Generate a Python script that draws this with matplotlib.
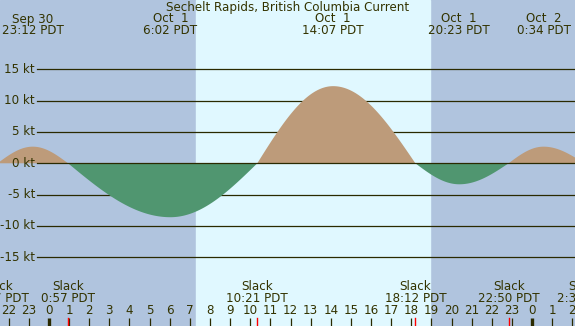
import numpy as np
import matplotlib
matplotlib.use('Agg')
import matplotlib.pyplot as plt
import matplotlib.transforms as mtrans

title = "Sechelt Rapids, British Columbia Current"

# events: time and speed in kt; 0 kt = slack
event_times = ["21:27", "23:12", "0:57", "6:02", "10:21", "14:07", "18:12", "20:23", "22:50", "0:34", "2:35"]
event_speeds = [0.0, 2.65, 0.0, -8.6, 0.0, 12.3, 0.0, -3.35, 0.0, 2.65, 0.0]
event_days = [-1, -1, 0, 0, 0, 0, 0, 0, 0, 1, 1]
max_dates = ["Sep 30", "Oct  1", "Oct  1", "Oct  1", "Oct  2"]

sunrise = "7:18"
sunset = "18:56"

y_ticks = [15, 10, 5, 0, -5, -10, -15]

W, H = 575, 326
x_lo, x_hi = -2.43, 26.13
y_lo, y_hi = -25.95, 26.04

txt = '#333300'
line_c = '#2a2a00'
night = '#b0c4de'
day = '#e0f8ff'
flood = '#bd9b7a'
ebb = '#509670'
fs = 8.6


def to_hours(s, d=0):
    h, m = s.split(':')
    return d * 24 + int(h) + int(m) / 60


t_ev = np.array([to_hours(s, d) for s, d in zip(event_times, event_days)])
v_ev = np.array(event_speeds)

# quarter-sine shape between slack and maximum
t = np.linspace(t_ev[0], t_ev[-1], 3000)
idx = np.clip(np.searchsorted(t_ev, t) - 1, 0, len(t_ev) - 2)
f = (t - t_ev[idx]) / (t_ev[idx + 1] - t_ev[idx])
a, b = v_ev[idx], v_ev[idx + 1]
v = np.where(a == 0, b * np.sin(np.pi / 2 * f), a * np.cos(np.pi / 2 * f))

fig = plt.figure(figsize=(W / 100, H / 100), dpi=100)
ax = fig.add_axes([0, 0, 1, 1])
ax.set_xlim(x_lo, x_hi)
ax.set_ylim(y_lo, y_hi)
ax.axis('off')

ax.axvspan(x_lo, x_hi, color=night, zorder=0)
ax.axvspan(to_hours(sunrise), to_hours(sunset), color=day, zorder=0.5)

bt = mtrans.blended_transform_factory(ax.transData, ax.transAxes)


def py(p):
    return 1 - p / H


# gridlines and y labels
x0 = x_lo + 37 / W * (x_hi - x_lo)
for yt in y_ticks:
    ax.plot([x0, x_hi], [yt, yt], color=line_c, lw=0.9, zorder=1 if yt else 3)
    ax.text(x0 - 0.1, yt, f"{yt} kt", ha='right', va='center', fontsize=fs, color=txt)

ax.fill_between(t, v, 0, where=v >= 0, color=flood, lw=0, zorder=2, interpolate=True)
ax.fill_between(t, v, 0, where=v <= 0, color=ebb, lw=0, zorder=2, interpolate=True)

ax.text(0.5, py(7), title, transform=ax.transAxes, ha='center', va='center', fontsize=fs, color=txt)

# max labels on top, slack labels at the bottom
mi = 0
for tt, sp, s in zip(t_ev, v_ev, event_times):
    if sp != 0:
        ax.text(tt, py(19), max_dates[mi], transform=bt, ha='center', va='center', fontsize=fs, color=txt)
        ax.text(tt, py(31), f"{s} PDT", transform=bt, ha='center', va='center', fontsize=fs, color=txt)
        mi += 1
    else:
        ax.text(tt, py(287), "Slack", transform=bt, ha='center', va='center', fontsize=fs, color=txt)
        ax.text(tt, py(299), f"{s} PDT", transform=bt, ha='center', va='center', fontsize=fs, color=txt)
        ax.plot([tt, tt], [py(318), py(326)], transform=bt, color='red', lw=1.0, zorder=4)

# hour ticks
for h in range(-2, 27):
    ax.text(h, py(311), str(h % 24), transform=bt, ha='center', va='center', fontsize=fs, color=txt)
    ax.plot([h, h], [py(318), py(326)], transform=bt, color=line_c,
            lw=2.4 if h % 24 == 0 else 0.9, zorder=3, solid_capstyle='butt')

fig.savefig('out.png', dpi=100)
